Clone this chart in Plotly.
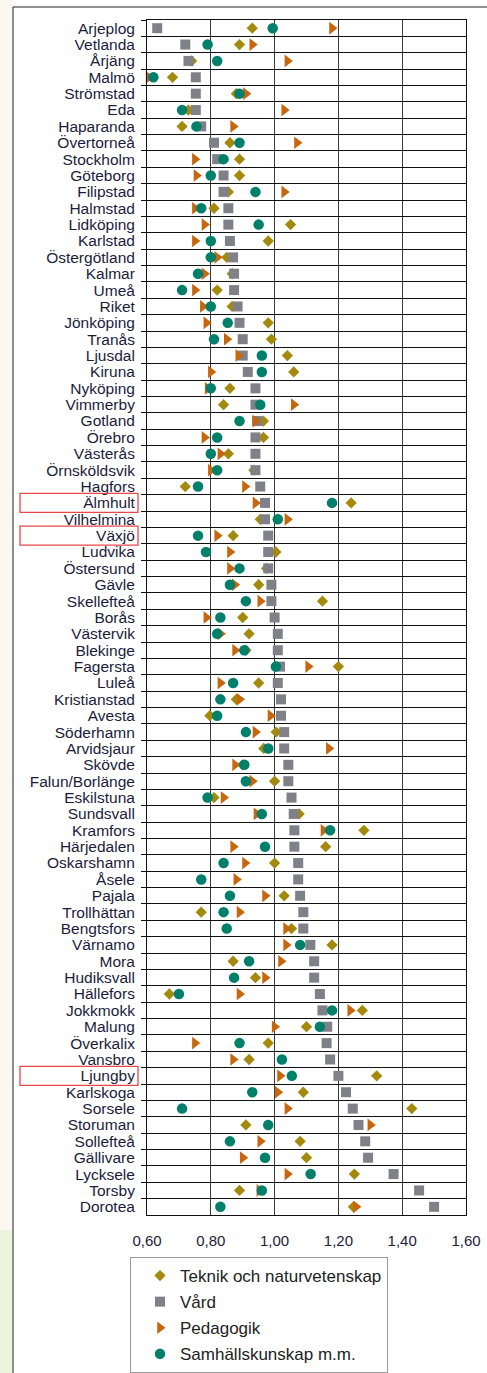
import plotly.graph_objects as go

categories = ["Arjeplog", "Vetlanda", "Årjäng", "Malmö", "Strömstad", "Eda", "Haparanda",
              "Övertorneå", "Stockholm", "Göteborg", "Filipstad", "Halmstad", "Lidköping",
              "Karlstad", "Östergötland", "Kalmar", "Umeå", "Riket", "Jönköping", "Tranås",
              "Ljusdal", "Kiruna", "Nyköping", "Vimmerby", "Gotland", "Örebro", "Västerås",
              "Örnsköldsvik", "Hagfors", "Älmhult", "Vilhelmina", "Växjö", "Ludvika",
              "Östersund", "Gävle", "Skellefteå", "Borås", "Västervik", "Blekinge", "Fagersta",
              "Luleå", "Kristianstad", "Avesta", "Söderhamn", "Arvidsjaur", "Skövde",
              "Falun/Borlänge", "Eskilstuna", "Sundsvall", "Kramfors", "Härjedalen",
              "Oskarshamn", "Åsele", "Pajala", "Trollhättan", "Bengtsfors", "Värnamo", "Mora",
              "Hudiksvall", "Hällefors", "Jokkmokk", "Malung", "Överkalix", "Vansbro",
              "Ljungby", "Karlskoga", "Sorsele", "Storuman", "Sollefteå", "Gällivare",
              "Lycksele", "Torsby", "Dorotea"]

teknik = [0.93, 0.89, 0.74, 0.68, 0.88, 0.73, 0.71, 0.86, 0.89, 0.89, 0.855, 0.81, 1.05,
          0.98, 0.85, 0.867, 0.82, 0.867, 0.98, 0.99, 1.04, 1.06, 0.86, 0.84, 0.965, 0.965,
          0.855, 0.935, 0.72, 1.24, 0.955, 0.87, 1.004, 0.975, 0.95, 1.15, 0.90, 0.92, 0.91,
          1.20, 0.95, 0.88, 0.797, 1.005, 0.966, 0.90, 1.00, 0.81, 1.077, 1.28, 1.16, 1.00,
          None, 1.03, 0.77, 1.053, 1.18, 0.87, 0.94, 0.67, 1.275, 1.10, 0.98, 0.92, 1.32,
          1.09, 1.43, 0.91, 1.08, 1.10, 1.25, 0.89, 1.247]

vard = [0.632, 0.72, 0.73, 0.753, 0.753, 0.753, 0.77, 0.81, 0.82, 0.84, 0.84, 0.855, 0.855,
        0.86, 0.87, 0.873, 0.873, 0.884, 0.89, 0.90, 0.90, 0.916, 0.94, 0.94, 0.945, 0.94,
        0.94, 0.94, 0.955, 0.97, 0.97, 0.98, 0.98, 0.98, 0.99, 0.99, 1.00, 1.01, 1.01, 1.017,
        1.01, 1.02, 1.02, 1.03, 1.03, 1.043, 1.043, 1.053, 1.06, 1.062, 1.062, 1.074, 1.074,
        1.08, 1.09, 1.09, 1.112, 1.124, 1.124, 1.142, 1.15, 1.165, 1.163, 1.174, 1.20, 1.224,
        1.245, 1.263, 1.284, 1.293, 1.373, 1.453, 1.50]

pedagogik = [1.18, 0.93, 1.04, 0.605, 0.91, 1.03, 0.87, 1.07, 0.75, 0.755, 1.03, 0.75, 0.78,
             0.75, 0.82, 0.78, 0.75, 0.775, 0.786, 0.85, 0.886, 0.80, 0.79, 1.06, 0.94, 0.78,
             0.83, 0.80, 0.907, 0.94, 1.04, 0.82, 0.86, 0.86, 0.875, 0.955, 0.786, 0.83,
             0.876, 1.105, 0.83, 0.89, 0.987, 0.94, 1.17, 0.876, 0.93, 0.84, 0.943, 1.153,
             0.87, 0.907, 0.88, 0.97, 0.89, 1.036, 1.036, 1.02, 0.97, 0.89, 1.237, 1.00, 0.75,
             0.87, 1.017, 1.01, 1.04, 1.30, 0.955, 0.90, 1.04, 0.952, 1.255]

samhall = [0.994, 0.79, 0.82, 0.62, 0.89, 0.71, 0.755, 0.89, 0.84, 0.80, 0.94, 0.77, 0.95,
           0.80, 0.80, 0.76, 0.71, 0.80, 0.853, 0.81, 0.96, 0.96, 0.80, 0.955, 0.89, 0.82,
           0.80, 0.82, 0.76, 1.18, 1.01, 0.76, 0.785, 0.89, 0.86, 0.91, 0.83, 0.82, 0.905,
           1.004, 0.87, 0.83, 0.82, 0.91, 0.98, 0.905, 0.91, 0.79, 0.96, 1.174, 0.97, 0.84,
           0.77, 0.86, 0.84, 0.85, 1.08, 0.92, 0.873, 0.70, 1.18, 1.142, 0.89, 1.023, 1.054,
           0.93, 0.71, 0.98, 0.86, 0.97, 1.113, 0.96, 0.83]

series_names = ["Teknik och naturvetenskap", "Vård", "Pedagogik", "Samhällskunskap m.m."]
x_ticks = [0.6, 0.8, 1.0, 1.2, 1.4, 1.6]
highlighted = ["Älmhult", "Växjö", "Ljungby"]

W, H = 487, 1373
L, R, T, B = 147, 21, 20, 158
pw, ph = W - L - R, H - T - B


def px_x(p):
    return (p - L) / pw


def px_y(p):
    return (H - B - p) / ph


fig = go.Figure()
styles = [
    (teknik, "diamond", "#A48A0C", 8.7),
    (vard, "square", "#808088", 10),
    (pedagogik, "triangle-right", "#C8660E", 11),
    (samhall, "circle", "#00806B", 10.5),
]
for name, (vals, sym, col, sz) in zip(series_names, styles):
    fig.add_trace(go.Scatter(
        x=vals, y=categories, mode="markers", name=name, legendgroup=name,
        marker=dict(symbol=sym, color=col, size=sz, line=dict(width=0)),
        cliponaxis=False,
    ))

shapes = []
# left page strip and outer frame
shapes.append(dict(type="rect", xref="paper", yref="paper", x0=px_x(0), x1=px_x(13),
                   y0=px_y(H + 5), y1=px_y(-5), fillcolor="#FCF8F1", line=dict(width=0),
                   layer="below"))
shapes.append(dict(type="rect", xref="paper", yref="paper", x0=px_x(0), x1=px_x(13),
                   y0=px_y(H + 5), y1=px_y(1230), fillcolor="#EEF3DE", line=dict(width=0),
                   layer="below"))
shapes.append(dict(type="rect", xref="paper", yref="paper", x0=px_x(13), x1=px_x(W + 10),
                   y0=px_y(H + 10), y1=px_y(7), line=dict(color="#222222", width=1),
                   fillcolor="rgba(0,0,0,0)"))
for c in highlighted:
    i = categories.index(c)
    shapes.append(dict(type="rect", xref="paper", yref="y", x0=px_x(20), x1=px_x(138),
                       y0=i - 0.58, y1=i + 0.58, line=dict(color="#E84848", width=1.3),
                       fillcolor="rgba(0,0,0,0)"))

label_color = "#1C1C3C"
n = len(categories)
fig.update_layout(
    template="none",
    width=W, height=H,
    margin=dict(l=L, r=R, t=T, b=B, pad=0, autoexpand=False),
    paper_bgcolor="white", plot_bgcolor="white",
    separators=",.",
    font=dict(family="Liberation Sans, Arial, sans-serif", color=label_color),
    shapes=shapes,
    showlegend=True,
    legend=dict(
        x=px_x(130), y=px_y(1257), xanchor="left", yanchor="top",
        bordercolor="#9A9A9A", borderwidth=1, bgcolor="white",
        font=dict(size=17, color="#222222"),
        traceorder="grouped", tracegroupgap=1, indentation=9,
    ),
)
fig.update_xaxes(
    range=[0.6, 1.6], tickmode="array", tickvals=x_ticks, tickformat=".2f",
    showgrid=True, gridcolor="#3A3A3A", gridwidth=1,
    showline=True, linecolor="#111111", linewidth=1, mirror=True,
    ticks="", zeroline=False, ticklabelstandoff=12, automargin=False,
    tickfont=dict(size=15, color=label_color),
)
fig.update_yaxes(
    type="category", categoryorder="array", categoryarray=categories,
    range=[n - 0.5, -0.5], tickmode="linear", dtick=1, tick0=0,
    tickson="boundaries",
    showgrid=True, gridcolor="#111111", gridwidth=1,
    showline=True, linecolor="#111111", linewidth=1, mirror=True,
    ticks="outside", ticklen=5, tickcolor="#111111", ticklabelstandoff=8,
    zeroline=False, automargin=False,
    tickfont=dict(size=15.5, color=label_color),
)

fig.write_html("out.html", config={"displayModeBar": False},
               post_script="document.body.style.margin='0';document.body.style.overflow='hidden';")
